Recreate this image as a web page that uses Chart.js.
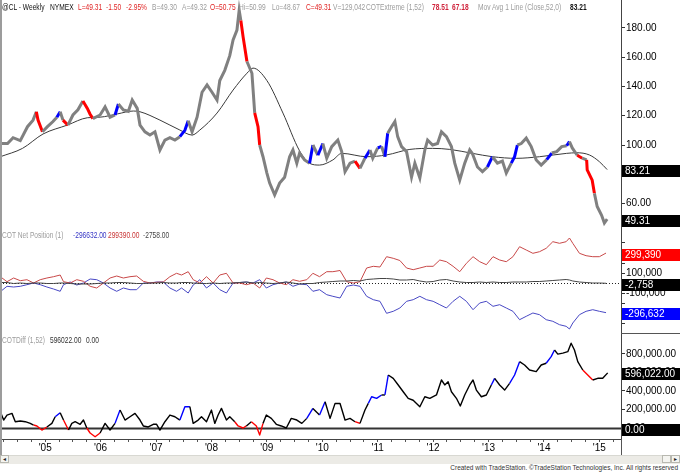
<!DOCTYPE html>
<html>
<head>
<meta charset="utf-8">
<title>@CL Weekly - COT</title>
<script src="https://cdn.jsdelivr.net/npm/chart.js@4.4.1/dist/chart.umd.min.js"></script>
<style>
  html, body { margin:0; padding:0; background:#fff; }
  #wrap { position:relative; width:680px; height:472px; overflow:hidden; background:#fff; font-family:"Liberation Sans", Arial, sans-serif; }
  #wrap canvas { position:absolute; left:0; }
  .t { position:absolute; font-size:8.5px; line-height:8px; white-space:nowrap; transform:scaleX(0.78); transform-origin:0 0; }
  .b { font-weight:bold; }
  .ln { position:absolute; background:#555; }
  .red { color:#e02424; } .gry { color:#9c9c9c; } .blk { color:#111; } .crm { color:#d0243c; }
</style>
</head>
<body>
<div id="wrap">
  <canvas id="c1" width="680" height="232" style="top:0px"></canvas>
  <canvas id="c2" width="680" height="102" style="top:232px"></canvas>
  <canvas id="c3" width="680" height="121" style="top:334px"></canvas>

  <!-- header -->
  <span class="t blk" style="left:2px;top:3px">@CL - Weekly</span>
  <span class="t blk" style="left:50px;top:3px">NYMEX</span>
  <span class="t red" style="left:78px;top:3px">L=49.31</span>
  <span class="t red" style="left:106px;top:3px">-1.50</span>
  <span class="t red" style="left:126px;top:3px">-2.95%</span>
  <span class="t gry" style="left:152px;top:3px">B=49.30</span>
  <span class="t gry" style="left:182px;top:3px">A=49.32</span>
  <span class="t red" style="left:210px;top:3px">O=50.75</span>
  <span class="t gry" style="left:239px;top:3px">Hi=50.99</span>
  <span class="t gry" style="left:272px;top:3px">Lo=48.67</span>
  <span class="t red" style="left:306px;top:3px">C=49.31</span>
  <span class="t gry" style="left:333px;top:3px">V=129,042</span>
  <span class="t gry" style="left:366px;top:3px">COTExtreme (1,52)</span>
  <span class="t crm b" style="left:432px;top:3px">78.51</span>
  <span class="t crm b" style="left:452px;top:3px">67.18</span>
  <span class="t gry" style="left:478px;top:3px">Mov Avg 1 Line (Close,52,0)</span>
  <span class="t blk b" style="left:570px;top:3px">83.21</span>

  <!-- COT net position title -->
  <span class="t gry" style="left:2px;top:231px">COT Net Position (1)</span>
  <span class="t" style="left:73px;top:231px;color:#3434c4">-296632.00</span>
  <span class="t" style="left:108px;top:231px;color:#c83434">299390.00</span>
  <span class="t" style="left:143px;top:231px;color:#444">-2758.00</span>

  <!-- COTDiff title -->
  <span class="t gry" style="left:2px;top:336px">COTDiff (1,52)</span>
  <span class="t" style="left:50px;top:336px;color:#333">596022.00</span>
  <span class="t" style="left:86px;top:336px;color:#333">0.00</span>

  <!-- frame pieces -->
  <div class="ln" style="left:0;top:0;width:2px;height:455px;background:#9c9c9c"></div>
  <div class="ln" style="left:621px;top:333px;width:59px;height:1px"></div>
  <div class="ln" style="left:621px;top:439px;width:1px;height:16px"></div>
  <div style="position:absolute;left:0;top:455px;width:680px;height:8px;background:#ecebe6;border-top:1px solid #d8d8d2"></div>
  <div style="position:absolute;left:0;top:455px;width:9px;height:8px;background:#f4f4f0;border:1px solid #b8b8b0;box-sizing:border-box;font-size:6px;line-height:6px;text-align:center;color:#222">&#9666;</div>
  <div style="position:absolute;left:662px;top:455px;width:9px;height:8px;background:#f4f4f0;border:1px solid #b8b8b0;box-sizing:border-box"></div>
  <div style="position:absolute;left:671px;top:455px;width:9px;height:8px;background:#f4f4f0;border:1px solid #b8b8b0;box-sizing:border-box;font-size:6px;line-height:6px;text-align:center;color:#222">&#9656;</div>
  <span style="position:absolute;right:2px;top:464px;font-size:6.5px;line-height:7px;color:#333;white-space:nowrap">Created with TradeStation. &copy;TradeStation Technologies, Inc. All rights reserved</span>
</div>

<script>
// ---------------- DATA ----------------
// Price panel: weekly @CL (back-adjusted) closes, sampled points, in decimal years
const priceT = [
  2004.19,2004.32,2004.42,2004.55,2004.68,2004.78,2004.84,2004.87,2004.95,2005.04,
  2005.14,2005.21,2005.27,2005.32,2005.41,2005.50,2005.59,2005.68,2005.76,2005.81,
  2005.86,2005.99,2006.08,2006.17,2006.26,2006.32,2006.41,2006.50,2006.57,2006.66,
  2006.71,2006.80,2006.89,2006.98,2007.07,2007.16,2007.25,2007.34,2007.43,2007.52,
  2007.58,2007.65,2007.74,2007.83,2007.92,2008.01,2008.10,2008.15,2008.24,2008.33,
  2008.39,2008.46,2008.50,2008.53,2008.57,2008.64,2008.73,2008.78,2008.84,2008.87,
  2008.93,2009.00,2009.05,2009.14,2009.23,2009.32,2009.41,2009.47,2009.54,2009.59,
  2009.68,2009.77,2009.83,2009.92,2010.01,2010.08,2010.17,2010.28,2010.35,2010.41,
  2010.50,2010.59,2010.68,2010.77,2010.86,2010.91,2011.00,2011.07,2011.13,2011.18,
  2011.25,2011.31,2011.36,2011.43,2011.52,2011.61,2011.67,2011.76,2011.85,2011.90,
  2011.99,2012.08,2012.15,2012.24,2012.33,2012.39,2012.48,2012.57,2012.66,2012.71,
  2012.80,2012.89,2012.98,2013.07,2013.16,2013.25,2013.32,2013.41,2013.47,2013.52,
  2013.59,2013.68,2013.77,2013.86,2013.95,2014.05,2014.14,2014.23,2014.32,2014.41,
  2014.46,2014.51,2014.60,2014.69,2014.77,2014.78,2014.87,2014.91,2014.96,2015.04,
  2015.09,2015.14
];
const priceClose = [
  101,101,105,103,112.5,117,122.7,117,109,112.5,
  116,119,122.7,117,113.6,120.5,124,130,125,121,
  118,120.5,126,119,120.5,128,124,123,130.7,125,
  113.6,109,106.8,109,96.6,103.4,105,103.4,105.7,110,
  116.6,109,119,136,141,136,130.7,144,151,161,
  171.7,178.5,192,185,174,157,149,122,112.5,100,
  92,80.8,74,66,74,78,92,96.6,87.6,94.5,
  89.8,87.6,100,93,101,91,98.9,103.4,95.5,81.8,
  87.6,89,84,91,96.6,91,98,99,92,108,
  112.5,116,105.7,98.9,95.5,78,87.6,77.5,96.6,103.4,
  100,101,109,105.7,98.9,87.6,76,87.6,96.6,94,
  85,81.8,85,92,87.6,89,80.8,87.6,92,100,
  101,104.7,98.9,89.8,86.3,90,94.5,95.5,98.9,99.5,
  102.3,98,93,91,89.8,83,76,67,58,52,
  46.7,49.31
];
// COTExtreme highlight of the bar leading into each point: g = none, r = red, b = blue
const priceFlag = [
  'g','g','g','g','g','g','g','r','r','g',
  'g','g','b','g','r','g','g','g','r','r',
  'r','g','g','g','g','b','g','g','g','g',
  'g','g','g','g','g','g','g','g','g','b',
  'b','g','g','g','g','g','g','g','g','g',
  'g','g','g','g','r','r','g','g','r','r',
  'g','g','g','g','g','g','g','g','g','g',
  'g','g','b','g','b','g','g','g','g','g',
  'g','g','r','g','b','g','g','b','g','b',
  'g','g','g','g','g','g','g','g','g','g',
  'g','g','g','g','g','g','g','g','g','g',
  'g','g','g','b','g','g','g','g','b','b',
  'g','g','g','g','g','g','b','g','g','g',
  'b','g','g','r','g','r','r','r','g','g',
  'g','g'
];
// 52-week moving average of close
const maT = [2004.19,2004.59,2004.96,2005.40,2005.76,2005.99,2006.30,2006.59,2006.71,2007.07,
  2007.43,2007.65,2007.79,2008.10,2008.39,2008.64,2008.75,2009.00,2009.29,2009.59,
  2009.77,2009.95,2010.19,2010.35,2010.80,2011.16,2011.58,2011.99,2012.30,2012.71,
  2013.07,2013.50,2013.92,2014.41,2014.59,2014.82,2015.00,2015.14];
const maVals = [92,97.7,107.5,113.6,118.6,119,121.2,123.2,122.7,117,
  110.2,106.8,110.2,121.8,137.5,149,152.5,144,121.8,96,
  87.5,86.3,89.8,94.3,92,93.2,97,97.7,97,94.3,
  92,90.9,92,94.3,94.7,93.2,88.6,83.21];

// COT net positions (thousands of contracts)
const cotT = [
  2004.19,2004.31,2004.43,2004.55,2004.67,2004.79,2004.91,2005.03,2005.15,2005.27,
  2005.33,2005.45,2005.57,2005.69,2005.81,2005.93,2006.05,2006.17,2006.29,2006.41,
  2006.53,2006.65,2006.77,2006.89,2007.01,2007.13,2007.25,2007.37,2007.46,2007.58,
  2007.67,2007.79,2007.91,2008.03,2008.15,2008.27,2008.39,2008.51,2008.63,2008.75,
  2008.87,2008.99,2009.11,2009.23,2009.35,2009.47,2009.59,2009.72,2009.83,2009.95,
  2010.08,2010.19,2010.32,2010.44,2010.56,2010.68,2010.80,2010.92,2011.04,2011.16,
  2011.28,2011.40,2011.52,2011.64,2011.76,2011.88,2012.00,2012.12,2012.24,2012.36,
  2012.48,2012.60,2012.72,2012.84,2012.96,2013.08,2013.20,2013.32,2013.44,2013.56,
  2013.68,2013.80,2013.92,2014.04,2014.16,2014.28,2014.40,2014.46,2014.52,2014.64,
  2014.76,2014.88,2015.00,2015.12
];
const cotLargeK = [
  63,13,50,23,33,0,33,50,63,80,
  13,0,33,17,-33,-50,0,50,70,50,
  63,70,17,0,7,10,63,97,80,113,
  33,0,63,0,80,97,0,0,-17,0,
  -50,50,33,0,-17,33,17,33,97,63,
  113,113,125,13,0,13,150,167,160,263,
  247,225,150,133,150,167,167,230,213,167,
  113,197,263,213,183,263,230,213,263,363,
  330,297,313,347,413,397,413,450,397,297,
  273,263,263,299.39
];
const cotCommK = [
  -87,-33,-40,-33,-17,0,-17,-40,-60,-83,
  -17,10,-20,0,40,33,0,-50,-83,-50,
  -67,-67,0,0,10,10,-50,-83,-50,-100,
  -20,33,-50,0,-67,-100,0,5,10,0,
  33,-50,-17,0,10,-33,-10,-17,-83,-67,
  -117,-133,-150,-33,-20,-33,-133,-167,-183,-303,
  -283,-250,-183,-167,-133,-167,-183,-217,-250,-183,
  -133,-183,-267,-200,-183,-233,-217,-250,-283,-367,
  -333,-300,-317,-367,-383,-417,-433,-460,-400,-317,
  -283,-267,-283,-296.632
];
const cotSmallK = [
  5,5,-5,0,-5,0,0,-5,-5,0,
  0,-5,-10,-10,-10,-5,0,0,5,5,
  0,-5,-5,0,0,5,0,0,5,5,
  0,-5,-5,0,-5,0,0,5,10,0,
  5,0,-5,0,10,0,-10,-5,-5,5,
  10,15,20,20,25,20,35,40,45,45,
  40,30,30,35,20,10,15,30,35,20,
  10,5,5,10,5,10,5,5,10,10,
  10,15,15,20,25,30,35,30,20,10,
  5,0,0,-2.758
];

// COTDiff (thousands)
const diffT = [
  2004.19,2004.25,2004.31,2004.40,2004.46,2004.55,2004.64,2004.73,2004.79,2004.85,
  2004.94,2005.03,2005.12,2005.18,2005.27,2005.33,2005.42,2005.48,2005.54,2005.63,
  2005.69,2005.75,2005.81,2005.90,2005.99,2006.08,2006.17,2006.26,2006.35,2006.44,
  2006.53,2006.62,2006.71,2006.77,2006.86,2006.95,2007.01,2007.07,2007.16,2007.25,
  2007.34,2007.43,2007.52,2007.61,2007.67,2007.76,2007.82,2007.91,2008.00,2008.06,
  2008.12,2008.18,2008.27,2008.33,2008.42,2008.48,2008.57,2008.63,2008.72,2008.81,
  2008.87,2008.93,2008.99,2009.08,2009.17,2009.26,2009.35,2009.44,2009.54,2009.63,
  2009.72,2009.83,2009.95,2010.05,2010.14,2010.23,2010.32,2010.41,2010.50,2010.59,
  2010.68,2010.77,2010.83,2010.89,2010.98,2011.07,2011.13,2011.19,2011.28,2011.37,
  2011.46,2011.55,2011.64,2011.76,2011.85,2011.94,2012.06,2012.15,2012.21,2012.27,
  2012.33,2012.42,2012.49,2012.57,2012.66,2012.72,2012.78,2012.87,2012.96,2013.05,
  2013.11,2013.20,2013.29,2013.38,2013.47,2013.56,2013.65,2013.74,2013.86,2013.95,
  2014.04,2014.13,2014.19,2014.25,2014.34,2014.43,2014.49,2014.55,2014.61,2014.70,
  2014.79,2014.88,2014.97,2015.06,2015.15
];
const diffK = [
  176,86,140,158,68,76,68,50,32,22,
  -22,11,50,122,165,86,-22,50,68,40,
  86,0,-54,-94,-54,50,-22,50,194,86,
  122,158,86,22,11,40,40,-22,68,140,
  122,86,230,230,50,86,122,68,194,50,
  140,212,86,122,68,22,0,22,68,22,
  -76,50,140,104,40,22,0,104,86,50,
  104,212,140,284,104,266,265,86,104,68,
  50,194,266,338,320,357,357,573,537,465,
  392,321,300,230,338,320,357,519,465,500,
  392,321,238,357,465,519,410,338,357,465,
  537,465,410,483,573,717,681,627,610,681,
  700,771,843,799,810,825,916,843,717,627,
  573,519,537,537,596.022
];
const diffFlag = [
  'g','g','g','g','g','g','g','g','g','r',
  'r','r','g','g','b','g','r','g','g','g',
  'g','g','r','r','r','g','g','g','b','g',
  'g','g','g','g','g','g','g','g','g','g',
  'g','g','b','b','g','g','g','g','g','g',
  'g','g','g','g','g','r','r','r','g','r',
  'r','r','g','g','g','g','g','g','g','g',
  'g','b','g','b','g','g','g','g','g','g',
  'r','g','g','b','b','b','g','b','g','g',
  'g','g','g','g','g','g','g','g','g','g',
  'g','g','g','g','g','g','g','g','g','g',
  'b','g','g','g','b','b','g','g','g','g',
  'g','b','b','g','g','g','g','g','g','g',
  'r','r','g','g','g'
];

// Axis ticks / labels
const yearTicks = [2005,2006,2007,2008,2009,2010,2011,2012,2013,2014,2015];
const yearLabels = ["'05","'06","'07","'08","'09","'10","'11","'12","'13","'14","'15"];
const priceTicks = [60,80,100,120,140,160,180];
const cotTicksK = [-400,-300,-200,-100,0,100,200,300,400];
const cotLabeledK = [100,-100];
const diffTicksK = [0,200,400,600,800];

// ---------------- RENDERING ----------------
const FONT = "'Liberation Sans', Arial, sans-serif";
const X_MIN = 2004.22, X_MAX = 2015.39;
const quarterTicks = [2004.25,2004.5,2004.75].concat(
  yearTicks.flatMap(y => [y, y + 0.25, y + 0.5, y + 0.75])).filter(v => v <= X_MAX);

const pts = (t, v) => t.map((x, i) => ({ x, y: v[i] }));
const flagColor = f => f === 'r' ? '#ff0000' : (f === 'b' ? '#0000ff' : undefined);

const boxPlugin = {
  id: 'boxes',
  afterDraw(chart, args, opts) {
    const ctx = chart.ctx, ys = chart.scales.y;
    ctx.save();
    (opts.items || []).forEach(it => {
      const y = ys.getPixelForValue(it.value) + 1.5;
      ctx.fillStyle = it.bg;
      ctx.fillRect(ys.left + 1, Math.round(y - 6), chart.width - ys.left - 1, 12);
      ctx.fillStyle = '#fff';
      ctx.font = '10px ' + FONT;
      ctx.textBaseline = 'middle';
      ctx.textAlign = 'left';
      ctx.fillText(it.text, ys.left + 4, Math.round(y) + 0.5);
    });
    ctx.restore();
  }
};
const refLinePlugin = {
  id: 'refLine',
  beforeDatasetsDraw(chart, args, opts) {
    if (opts.value === undefined) return;
    const ctx = chart.ctx, a = chart.chartArea;
    const y = Math.round(chart.scales.y.getPixelForValue(opts.value)) + 0.5;
    ctx.save();
    ctx.strokeStyle = opts.color; ctx.lineWidth = opts.width;
    ctx.setLineDash(opts.dash || []);
    ctx.beginPath(); ctx.moveTo(0, y); ctx.lineTo(a.right, y); ctx.stroke();
    ctx.restore();
  }
};

function yAxis(min, max, tickVals, fmt) {
  return {
    type: 'linear', position: 'right', min, max,
    afterFit(s) { s.width = 59; s.paddingTop = 0; s.paddingBottom = 0; },
    afterBuildTicks(s) { s.ticks = tickVals.map(v => ({ value: v })); },
    ticks: { callback: fmt, color: '#000', font: { family: FONT, size: 10 }, padding: 1, autoSkip: false },
    grid: { drawOnChartArea: false, drawTicks: true, tickLength: 4, color: '#333', lineWidth: 1 },
    border: { display: true, color: '#444', width: 1 }
  };
}
function xAxis(show) {
  return {
    type: 'linear', min: X_MIN, max: X_MAX, display: show,
    afterFit(s) { s.height = show ? 16 : 0; s.paddingLeft = 0; s.paddingRight = 0; },
    afterBuildTicks(s) { s.ticks = quarterTicks.map(v => ({ value: v })); },
    ticks: {
      autoSkip: false, maxRotation: 0, minRotation: 0, color: '#000', font: { family: FONT, size: 10 }, padding: 0,
      callback: v => { const i = yearTicks.indexOf(v); return i >= 0 ? yearLabels[i] : ''; }
    },
    grid: { drawOnChartArea: false, drawTicks: true, tickLength: 3, color: '#555' },
    border: { display: true, color: '#444', width: 1 }
  };
}
function baseOptions(scales, pluginOpts) {
  return {
    responsive: false, animation: false, events: [],
    layout: { padding: { left: 2, right: 0, top: 0, bottom: 0 } },
    elements: { point: { radius: 0 }, line: { tension: 0 } },
    scales,
    plugins: Object.assign({ legend: { display: false }, tooltip: { enabled: false } }, pluginOpts)
  };
}

// Chart 1: price + moving average
new Chart(document.getElementById('c1'), {
  type: 'line',
  data: { datasets: [
    { data: pts(priceT, priceClose), borderColor: '#808080', borderWidth: 3, borderJoinStyle: 'miter',
      segment: { borderColor: c => flagColor(priceFlag[c.p1DataIndex]) } },
    { data: pts(maT, maVals), borderColor: '#3a3a3a', borderWidth: 1, cubicInterpolationMode: 'monotone' }
  ]},
  options: baseOptions(
    { x: xAxis(false), y: yAxis(40.6, 199.0, priceTicks, v => v.toFixed(2)) },
    { boxes: { items: [ { value: 83.21, text: '83.21', bg: '#000' }, { value: 49.31, text: '49.31', bg: '#000' } ] } }
  ),
  plugins: [boxPlugin]
});

// Chart 2: COT net positions
new Chart(document.getElementById('c2'), {
  type: 'line',
  data: { datasets: [
    { data: pts(cotT, cotSmallK), borderColor: '#454545', borderWidth: 1 },
    { data: pts(cotT, cotLargeK), borderColor: '#c84848', borderWidth: 1 },
    { data: pts(cotT, cotCommK), borderColor: '#4848c4', borderWidth: 1 }
  ]},
  options: baseOptions(
    { x: xAxis(false), y: yAxis(-510, 510, cotTicksK,
        v => cotLabeledK.includes(v) ? (v * 1000).toLocaleString('en-US') : '') },
    { refLine: { value: 0, color: '#222', width: 1, dash: [1, 2] },
      boxes: { items: [
        { value: 299.39, text: '299,390', bg: '#ff0000' },
        { value: -2.758, text: '-2,758', bg: '#000' },
        { value: -296.632, text: '-296,632', bg: '#0000ff' } ] } }
  ),
  plugins: [refLinePlugin, boxPlugin]
});

// Chart 3: COTDiff
new Chart(document.getElementById('c3'), {
  type: 'line',
  data: { datasets: [
    { data: pts(diffT, diffK), borderColor: '#000', borderWidth: 1.4, borderJoinStyle: 'round',
      segment: { borderColor: c => flagColor(diffFlag[c.p1DataIndex]) } }
  ]},
  options: baseOptions(
    { x: xAxis(true), y: yAxis(-118.9, 1016.1, diffTicksK,
        v => (v * 1000).toLocaleString('en-US', { minimumFractionDigits: 2, maximumFractionDigits: 2 })) },
    { refLine: { value: 0, color: '#333', width: 2 },
      boxes: { items: [ { value: 596.022, text: '596,022.00', bg: '#000' }, { value: 0, text: '0.00', bg: '#000' } ] } }
  ),
  plugins: [refLinePlugin, boxPlugin]
});
</script>
</body>
</html>
